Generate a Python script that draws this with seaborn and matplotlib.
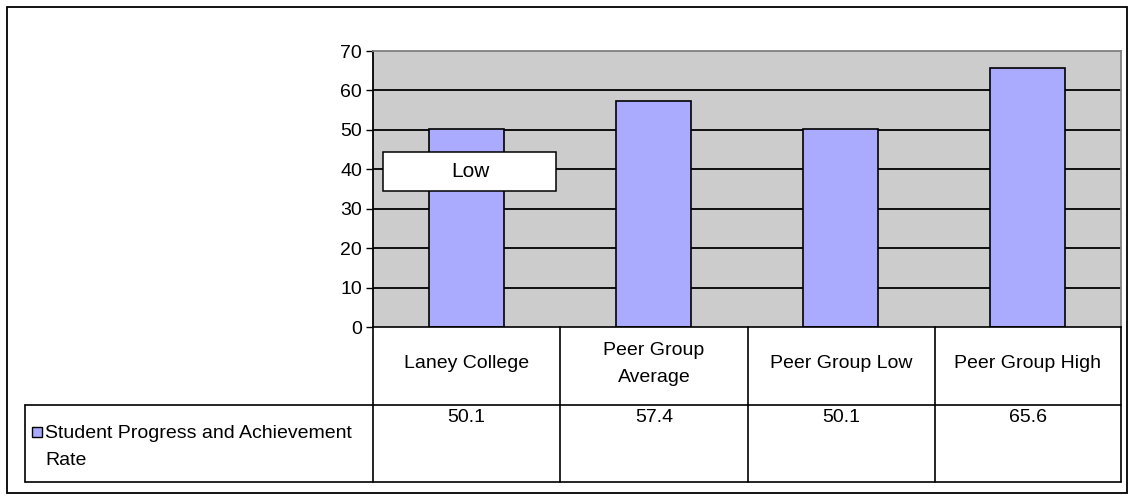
import pandas as pd
import seaborn as sns
import matplotlib.pyplot as plt
from matplotlib.patches import Rectangle

# data
categories = ["Laney College", "Peer Group Average", "Peer Group Low", "Peer Group High"]
header_labels = ["Laney College", "Peer Group\nAverage", "Peer Group Low", "Peer Group High"]
values = [50.1, 57.4, 50.1, 65.6]
series_name = "Student Progress and Achievement\nRate"
value_labels = ["50.1", "57.4", "50.1", "65.6"]
y_ticks = [0, 10, 20, 30, 40, 50, 60, 70]

df = pd.DataFrame({"category": categories, "value": values})

sns.set_theme(style="white")
plt.rcParams['font.family'] = ['Liberation Sans', 'DejaVu Sans']
plt.rcParams['text.color'] = 'black'
plt.rcParams['ytick.color'] = 'black'

W, H = 1130, 500
fig = plt.figure(figsize=(W / 100, H / 100), dpi=100)
bar_color = "#AAAAFF"
fs = 14


def px(x0, y0, x1, y1):
    # pixel box (top-left origin) -> figure fraction rect
    return [x0 / W, 1 - y1 / H, (x1 - x0) / W, (y1 - y0) / H]


# outer chart border
fig.patches.append(Rectangle((7 / W, 1 - 493 / H), 1120 / W, 486 / H,
                             transform=fig.transFigure, fill=False,
                             edgecolor="black", linewidth=1.3))

# plot area
ax = fig.add_axes(px(373, 51, 1121, 327))
ax.set_facecolor("#CCCCCC")
sns.barplot(data=df, x="category", y="value", color=bar_color, width=0.4,
            edgecolor="black", linewidth=1.2, saturation=1, ax=ax, zorder=3)
ax.set_ylim(0, 70)
ax.set_xlim(-0.5, 3.5)
ax.set_yticks(y_ticks)
ax.set_yticklabels([str(t) for t in y_ticks], fontsize=fs)
ax.tick_params(axis="y", length=5, width=1, color="black", pad=3, left=True)
ax.set_xticks([])
ax.set_xlabel("")
ax.set_ylabel("")
for t in y_ticks[1:-1]:
    ax.axhline(t, color="black", linewidth=1.3, zorder=1)
for side in ["top", "right"]:
    ax.spines[side].set_color("#808080")
    ax.spines[side].set_linewidth(1.3)
ax.spines["left"].set_color("black")
ax.spines["left"].set_linewidth(1.3)
ax.spines["bottom"].set_visible(False)

# "Low" text box
box = Rectangle((-0.5 + (383 - 373) / 187, 34.6), (556 - 383) / 187, 9.9,
                facecolor="white", edgecolor="black", linewidth=1.1, zorder=5)
ax.add_patch(box)
ax.text(-0.5 + (470 - 373) / 187, 39.4, "Low", ha="center", va="center",
        fontsize=15, color="black", zorder=6)

# data table (pixel coordinates)
tab = fig.add_axes(px(0, 0, W, H))
tab.set_xlim(0, W)
tab.set_ylim(H, 0)
tab.axis("off")
lw = 1.2
col_edges = [373, 560, 748, 935, 1121]
top, mid, bot = 327, 405, 482
tab.plot([373, 1121], [top, top], color="black", lw=lw)
tab.plot([25, 1121], [mid, mid], color="black", lw=lw)
tab.plot([25, 1121], [bot, bot], color="black", lw=lw)
tab.plot([25, 25], [mid, bot], color="black", lw=lw)
for x in col_edges:
    tab.plot([x, x], [top, bot], color="black", lw=lw)

for i, lab in enumerate(header_labels):
    cx = (col_edges[i] + col_edges[i + 1]) / 2
    tab.text(cx, 364, lab, ha="center", va="center", fontsize=fs,
             linespacing=1.8)
    tab.text(cx, 418, value_labels[i], ha="center", va="center", fontsize=fs)

tab.add_patch(Rectangle((32, 427), 10, 10, facecolor=bar_color,
                        edgecolor="black", linewidth=1))
tab.text(45, 447, series_name, ha="left", va="center", fontsize=fs,
         linespacing=1.8)

fig.savefig("out.png", dpi=100)
